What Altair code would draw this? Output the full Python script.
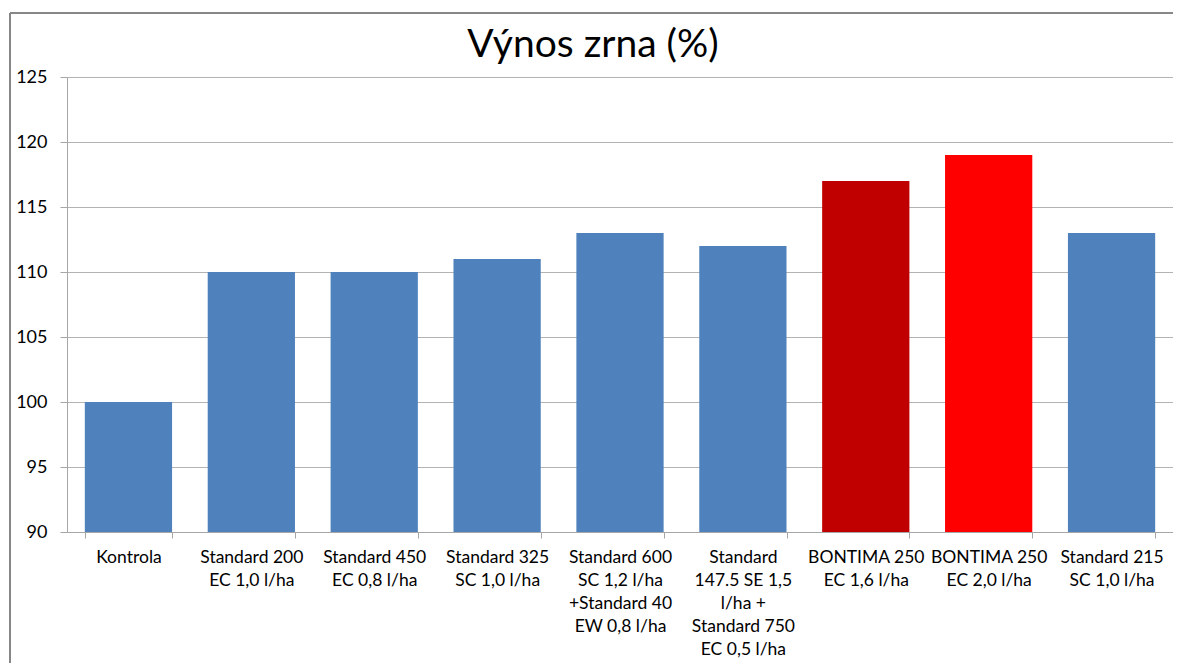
import altair as alt
import pandas as pd

categories = [
    "Kontrola",
    "Standard 200\nEC 1,0 l/ha",
    "Standard 450\nEC 0,8 l/ha",
    "Standard 325\nSC 1,0 l/ha",
    "Standard 600\nSC 1,2  l/ha\n+Standard 40\nEW 0,8 l/ha",
    "Standard\n147.5 SE 1,5\nl/ha +\nStandard 750\nEC 0,5 l/ha",
    "BONTIMA 250\nEC 1,6 l/ha",
    "BONTIMA 250\nEC 2,0 l/ha",
    "Standard 215\nSC 1,0 l/ha",
]
values = [100, 110, 110, 111, 113, 112, 117, 119, 113]
colors = ["#4F81BD", "#4F81BD", "#4F81BD", "#4F81BD", "#4F81BD",
          "#4F81BD", "#C00000", "#FF0000", "#4F81BD"]
y_ticks = [90, 95, 100, 105, 110, 115, 120, 125]

df = pd.DataFrame({"cat": categories, "val": values, "color": colors})

FONT = "Lato"
W, H = 1106, 455

bars = alt.Chart(df).mark_bar().encode(
    x=alt.X("cat:N", sort=categories, title=None,
            scale=alt.Scale(paddingInner=0.29, paddingOuter=0.145),
            axis=alt.Axis(labelAngle=0, labelExpr="split(datum.label, '\\n')",
                          labelLineHeight=23, labelFontSize=17.5, labelFont=FONT,
                          labelColor="#000000", labelPadding=10, tickBand="extent",
                          tickSize=6, tickColor="#a6a6a6", domainColor="#a6a6a6",
                          labelBaseline="top", grid=False)),
    y=alt.Y("val:Q", title=None,
            scale=alt.Scale(domain=[90, 125], zero=False, nice=False),
            axis=alt.Axis(values=y_ticks, labelFontSize=18, labelFont=FONT,
                          labelColor="#000000", tickSize=7, labelPadding=13,
                          tickColor="#a6a6a6", domainColor="#a6a6a6",
                          gridColor="#b3b3b3", grid=True)),
    y2=alt.datum(90),
    color=alt.Color("color:N", scale=None),
)

frame_top = alt.Chart(df).mark_rule(stroke="#878787", strokeWidth=2, clip=False).encode(
    x=alt.value(-57), x2=alt.value(W + 30), y=alt.value(-64)
)
frame_left = alt.Chart(df).mark_rule(stroke="#878787", strokeWidth=2, clip=False).encode(
    x=alt.value(-57), y=alt.value(-64), y2=alt.value(H + 200)
)

chart = alt.layer(frame_top, frame_left, bars).properties(
    width=W, height=H,
    title=alt.TitleParams("Výnos zrna (%)", font=FONT, fontSize=39, fontWeight="normal",
                          color="#000000", dx=-27, offset=-84, baseline="alphabetic"),
    autosize=alt.AutoSizeParams(type="none"),
    padding={"left": 59, "top": 69, "right": 0, "bottom": 131},
).configure_view(stroke=None).configure_axis(domainWidth=1)

chart.save("out.html", embed_options={"renderer": "svg", "actions": False})
